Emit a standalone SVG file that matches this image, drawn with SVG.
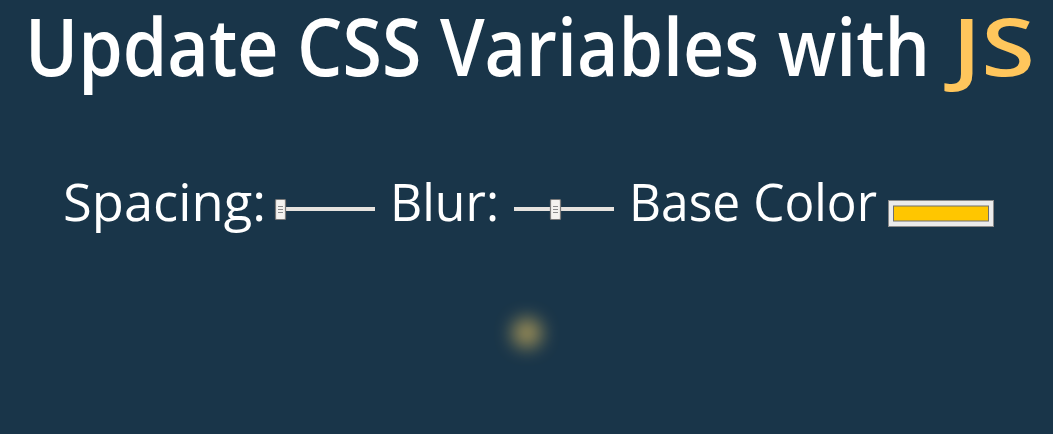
<svg xmlns="http://www.w3.org/2000/svg" width="1053" height="434" viewBox="0 0 1053 434">
<defs>
<style>
.t{font-family:"Open Sans","Noto Sans","Liberation Sans",sans-serif;fill:#ffffff}
.title{font-size:80px;font-weight:600}
.lbl{font-size:51px;font-weight:400}
.track{fill:#e6e3df}
.thumb{fill:#f4f2ef;stroke:#7a7a7a;stroke-width:1.2}
.grip{stroke:#8a8a8a;stroke-width:1}
</style>
<filter id="blur" x="-200%" y="-200%" width="500%" height="500%"><feGaussianBlur stdDeviation="9"/></filter>
</defs>
<rect width="1053" height="434" fill="#193549"/>
<g id="title">
<text class="t title" x="25" y="76" textLength="905" lengthAdjust="spacingAndGlyphs">Update CSS Variables with</text>
<text class="t title" x="952" y="76" textLength="83" lengthAdjust="spacingAndGlyphs" style="fill:#ffc65c">JS</text>
</g>
<g id="spacing-label"><text class="t lbl" x="63" y="221" textLength="203" lengthAdjust="spacingAndGlyphs">Spacing:</text></g>
<g id="spacing-slider">
<rect class="track" x="280" y="207" width="95" height="4"/>
<rect class="thumb" x="275.5" y="199.5" width="10" height="20" rx="1"/>
<path class="grip" d="M278 206.5h5M278 209.5h5M278 212.5h5"/>
</g>
<g id="blur-label"><text class="t lbl" x="390" y="221" textLength="109" lengthAdjust="spacingAndGlyphs">Blur:</text></g>
<g id="blur-slider">
<rect class="track" x="514" y="207" width="100" height="4"/>
<rect class="thumb" x="550.5" y="199.5" width="10" height="20" rx="1"/>
<path class="grip" d="M553 206.5h5M553 209.5h5M553 212.5h5"/>
</g>
<g id="base-label"><text class="t lbl" x="629" y="221" textLength="248" lengthAdjust="spacingAndGlyphs">Base Color</text></g>
<g id="color-input">
<rect x="888.5" y="200.5" width="105" height="26" fill="#ebebeb" stroke="#8a8a8a" stroke-width="1"/>
<rect x="893.5" y="206" width="95" height="15" fill="#ffc600" stroke="#6f6f6f" stroke-width="1"/>
</g>
<g id="image">
<circle cx="527" cy="333" r="15" fill="#f0c860" opacity="0.6" filter="url(#blur)"/>
</g>
</svg>
